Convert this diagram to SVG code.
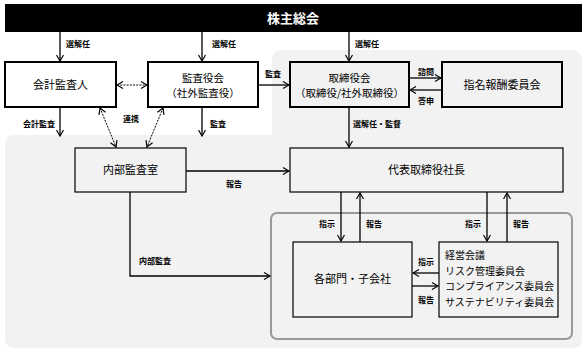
<svg xmlns="http://www.w3.org/2000/svg" width="587" height="352" viewBox="0 0 587 352">
<defs>
<marker id="ah" viewBox="0 0 8 8" refX="7" refY="4" markerWidth="8" markerHeight="8" markerUnits="userSpaceOnUse" orient="auto-start-reverse">
<path d="M1,0.5 L7,4 L1,7.5" fill="none" stroke="#000" stroke-width="1.2"/>
</marker>
</defs>
<style>
text{font-family:"Noto Sans CJK JP","Noto Sans",sans-serif;fill:#000}
.t{font-size:11px;text-anchor:middle}
.m{font-size:10.5px;text-anchor:middle}
.k{font-size:10px}
.l{font-size:8px;font-weight:bold}
.thick{fill:none;stroke:#000;stroke-width:2}
.thin{fill:none;stroke:#000;stroke-width:1.2}
.c{fill:none;stroke:#000;stroke-width:1.3}
.d{fill:none;stroke:#000;stroke-width:1;stroke-dasharray:2,1.2}
</style>
<rect width="587" height="352" fill="#fff"/>
<path id="bg" d="M282,50 H572 Q582,50 582,60 V338 Q582,348 572,348 H15 Q5,348 5,338 V145 Q5,135 15,135 H272 V60 Q272,50 282,50 Z" fill="#f2f2f2"/>
<rect id="inner" x="271" y="213" width="301" height="126" rx="6" fill="none" stroke="#999" stroke-width="2"/>
<g id="shareholders">
<rect x="5" y="4" width="577" height="28" fill="#000"/>
<text x="293" y="23" style="font-size:13px;font-weight:bold;fill:#fff;text-anchor:middle">株主総会</text>
</g>
<g id="auditor">
<rect class="thick" x="5" y="62" width="111" height="45"/>
<text class="t" x="60.5" y="89">会計監査人</text>
</g>
<g id="audit-board">
<rect class="thick" x="148" y="62" width="110" height="45"/>
<text class="m" x="203" y="81.5">監査役会</text>
<text class="m" x="203" y="96.5">（社外監査役）</text>
</g>
<g id="board">
<rect class="thick" x="290" y="62" width="119" height="45"/>
<text class="m" x="349.5" y="81.5">取締役会</text>
<text class="m" x="349.5" y="96.5">（取締役/社外取締役）</text>
</g>
<g id="nomination">
<rect class="thick" x="442" y="62" width="120" height="45"/>
<text class="t" x="502" y="89">指名報酬委員会</text>
</g>
<g id="internal-audit">
<rect class="thin" x="75" y="148" width="111" height="44"/>
<text class="t" x="130.5" y="174">内部監査室</text>
</g>
<g id="president">
<rect class="thin" x="290" y="148" width="273" height="44"/>
<text class="t" x="426.5" y="174">代表取締役社長</text>
</g>
<g id="departments">
<rect class="thin" x="293" y="242" width="119" height="75"/>
<text class="t" x="352.5" y="283">各部門・子会社</text>
</g>
<g id="committees">
<rect class="thin" x="439" y="242" width="119" height="75"/>
<text class="k" x="445" y="259">経営会議</text>
<text class="k" x="445" y="275">リスク管理委員会</text>
<text class="k" x="445" y="290">コンプライアンス委員会</text>
<text class="k" x="445" y="306">サステナビリティ委員会</text>
</g>
<g id="connectors">
<line class="c" x1="60" y1="32" x2="60" y2="61" marker-end="url(#ah)"/>
<line class="c" x1="202" y1="32" x2="202" y2="61" marker-end="url(#ah)"/>
<line class="c" x1="349" y1="32" x2="349" y2="61" marker-end="url(#ah)"/>
<line class="d" x1="117" y1="85" x2="147" y2="85" marker-start="url(#ah)" marker-end="url(#ah)"/>
<line class="c" x1="258" y1="85" x2="289" y2="85" marker-end="url(#ah)"/>
<line class="c" x1="409" y1="78" x2="441" y2="78" marker-end="url(#ah)"/>
<line class="c" x1="442" y1="90" x2="410" y2="90" marker-end="url(#ah)"/>
<line class="c" x1="349" y1="107" x2="349" y2="147" marker-end="url(#ah)"/>
<line class="c" x1="60" y1="107" x2="60" y2="136" marker-end="url(#ah)"/>
<line class="c" x1="202" y1="107" x2="202" y2="136" marker-end="url(#ah)"/>
<line class="d" x1="100" y1="108" x2="116" y2="147" marker-start="url(#ah)" marker-end="url(#ah)"/>
<line class="d" x1="163" y1="108" x2="147" y2="147" marker-start="url(#ah)" marker-end="url(#ah)"/>
<line class="c" x1="186" y1="171" x2="289" y2="171" marker-end="url(#ah)"/>
<polyline class="c" points="130,192 130,276 270,276" marker-end="url(#ah)"/>
<line class="c" x1="341" y1="192" x2="341" y2="241" marker-end="url(#ah)"/>
<line class="c" x1="360" y1="242" x2="360" y2="193" marker-end="url(#ah)"/>
<line class="c" x1="487" y1="192" x2="487" y2="241" marker-end="url(#ah)"/>
<line class="c" x1="507" y1="242" x2="507" y2="193" marker-end="url(#ah)"/>
<line class="c" x1="439" y1="273" x2="413" y2="273" marker-end="url(#ah)"/>
<line class="c" x1="412" y1="286" x2="438" y2="286" marker-end="url(#ah)"/>
</g>
<g id="labels">
<text class="l" x="66" y="47">選解任</text>
<text class="l" x="212" y="47">選解任</text>
<text class="l" x="355" y="47">選解任</text>
<text class="l" x="265" y="77">監査</text>
<text class="l" x="418" y="75">諮問</text>
<text class="l" x="418" y="104">答申</text>
<text class="l" x="353" y="127">選解任・監督</text>
<text class="l" x="23" y="127">会計監査</text>
<text class="l" x="210" y="127">監査</text>
<text class="l" x="123" y="122">連携</text>
<text class="l" x="226" y="187">報告</text>
<text class="l" x="139" y="264">内部監査</text>
<text class="l" x="319" y="227">指示</text>
<text class="l" x="366" y="227">報告</text>
<text class="l" x="465" y="227">指示</text>
<text class="l" x="513" y="227">報告</text>
<text class="l" x="418" y="265">指示</text>
<text class="l" x="418" y="303">報告</text>
</g>
</svg>
